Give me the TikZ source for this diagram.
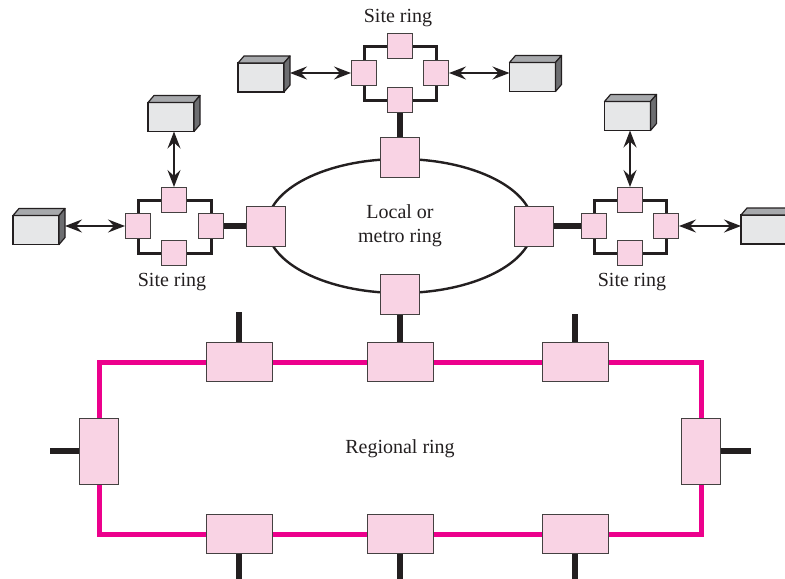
\documentclass[tikz,border=0pt]{standalone}
\usepackage{fontspec}
\setmainfont{Liberation Serif}
\usepackage{tikz}
\usetikzlibrary{shapes,arrows.meta,positioning,backgrounds}
\definecolor{boxpink}{HTML}{F9D3E4}
\definecolor{ringpink}{HTML}{EC008C}
\definecolor{ink}{HTML}{231F20}
\definecolor{devfront}{HTML}{E6E7E8}
\definecolor{devtop}{HTML}{A7A9AC}
\definecolor{devside}{HTML}{6D6E71}
\tikzstyle{sbox} = [rectangle, draw=ink!85, line width=0.5pt, fill=boxpink,
minimum size=12.5pt, inner sep=0pt]
\tikzstyle{mbox} = [sbox, minimum width=19.5pt, minimum height=20pt]
\tikzstyle{hbox} = [sbox, minimum width=33pt, minimum height=19.5pt]
\tikzstyle{vbox} = [sbox, minimum width=19.5pt, minimum height=33pt]
\tikzstyle{dev} = [rectangle, draw=ink, line width=0.6pt, fill=devfront,
minimum width=23pt, minimum height=14.5pt, inner sep=0pt, outer sep=0pt]
\tikzstyle{lbl} = [text=ink, font=\fontsize{10}{12}\selectfont, align=center]
\tikzstyle{tedge} = [draw=ink, line width=0.8pt, <->, >={Stealth[length=8.5pt,width=6.5pt,inset=3pt]}]
\tikzstyle{site} = [draw=ink, line width=1.5pt]
\tikzstyle{trunk} = [draw=ink, line width=2.8pt]
\tikzstyle{regional} = [draw=ringpink, line width=2.5pt]

\begin{document}
\begin{tikzpicture}[x=0.5pt, y=-0.5pt]
\useasboundingbox (0,0) rectangle (785,578);

% Local or metro ring =============================
\node[ellipse, draw=ink, line width=1.2pt, minimum width=133pt, minimum height=67pt, lbl] (metro) at (400,226) {Local or\\metro ring};
\node[mbox] (mt) at (metro.north) {};
\node[mbox] (ml) at (metro.west) {};
\node[mbox] (mr) at (metro.east) {};
\node[mbox] (mb) at (metro.south) {};

% top site ring
\node[sbox] (tt) at (400,46) {};
\node[sbox] (tl) at (364,73) {};
\node[sbox] (tr) at (436,73) {};
\node[sbox] (tb) at (400,100) {};
\node[lbl] (tlabel) at (398,18) {Site ring};
\node[dev] (tdl) at (261,77.5) {};
\node[dev] (tdr) at (532.5,77) {};

% left site ring
\node[sbox] (lt) at (174,200) {};
\node[sbox] (ll) at (138,226) {};
\node[sbox] (lr) at (211,226) {};
\node[sbox] (lb) at (174,253) {};
\node[lbl] (llabel) at (172,282) {Site ring};
\node[dev] (ldt) at (171,117) {};
\node[dev] (ldl) at (36,230) {};

% right site ring
\node[sbox] (rt) at (630,200) {};
\node[sbox] (rl) at (594,226) {};
\node[sbox] (rr) at (666,226) {};
\node[sbox] (rb) at (630,253) {};
\node[lbl] (rlabel) at (632,282) {Site ring};
\node[dev] (rdt) at (627.5,116) {};
\node[dev] (rdr) at (764,229.5) {};

% device sides
\foreach \d in {tdl,tdr,ldt,ldl,rdt,rdr} {
  \filldraw[draw=ink, line width=0.6pt, fill=devtop, line join=round] (\d.north west) -- ++(3pt,3.5pt) -- ++(23pt,0pt) -- (\d.north east) -- cycle;
  \filldraw[draw=ink, line width=0.6pt, fill=devside, line join=round] (\d.north east) -- ++(3pt,3.5pt) -- ++(0pt,-14.5pt) -- (\d.south east) -- cycle;
}

% Regional ring =============================
\node[hbox] (g1) at (239,362) {};
\node[hbox] (g2) at (400,362) {};
\node[hbox] (g3) at (575,362) {};
\node[hbox] (g4) at (239,534) {};
\node[hbox] (g5) at (400,534) {};
\node[hbox] (g6) at (575,534) {};
\node[vbox] (gl) at (99,451) {};
\node[vbox] (gr) at (701,451) {};
\node[lbl] (glabel) at (400,449) {Regional ring};

\begin{scope}[on background layer]
\path[site] (tl |- tt) -- (tr |- tt) -- (tr |- tb) -- (tl |- tb) -- cycle;
\path[site] (ll |- lt) -- (lr |- lt) -- (lr |- lb) -- (ll |- lb) -- cycle;
\path[site] (rl |- rt) -- (rr |- rt) -- (rr |- rb) -- (rl |- rb) -- cycle;
\path[regional] (gl |- g1) -- (gr |- g1) -- (gr |- g4) -- (gl |- g4) -- cycle;
\end{scope}

% edges
\path[tedge] ([xshift=3pt]tdl.east |- tl) -- (tl.west);
\path[tedge] (tr.east) -- (tdr.west |- tr);
\path[tedge] (lt |- ldt.south) -- (lt.north);
\path[tedge] ([xshift=3pt]ldl.east |- ll) -- (ll.west);
\path[tedge] (rt |- rdt.south) -- (rt.north);
\path[tedge] (rr.east) -- (rdr.west |- rr);

\path[trunk] (tb.south) -- (mt.north);
\path[trunk] (lr.east) -- (ml.west);
\path[trunk] (mr.east) -- (rl.west);
\path[trunk] (mb.south) -- (g2.north);

% stubs
\coordinate[above=15pt of g1] (s1);
\coordinate[above=14pt of g3] (s3);
\coordinate[below=15pt of g4] (s4);
\coordinate[below=15pt of g5] (s5);
\coordinate[below=15pt of g6] (s6);
\coordinate[left=14.5pt of gl] (sl);
\coordinate[right=15pt of gr] (sr);
\path[trunk] (g1.north) -- (s1);
\path[trunk] (g3.north) -- (s3);
\path[trunk] (g4.south) -- (s4);
\path[trunk] (g5.south) -- (s5);
\path[trunk] (g6.south) -- (s6);
\path[trunk] (gl.west) -- (sl);
\path[trunk] (gr.east) -- (sr);

\end{tikzpicture}
\end{document}
